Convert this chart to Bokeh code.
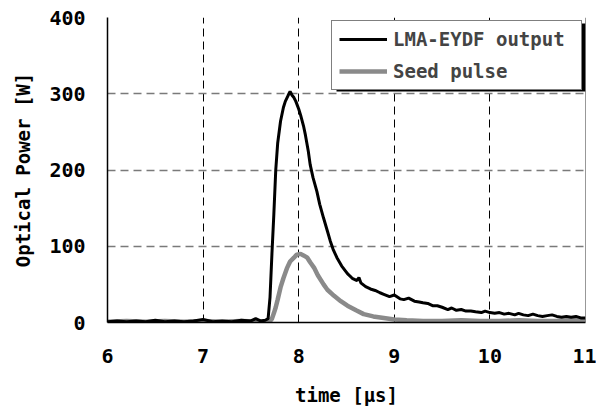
from bokeh.plotting import figure
from bokeh.models import Range1d, FixedTicker, Legend, LegendItem, Span, BoxAnnotation
from bokeh.embed import file_html
from bokeh.resources import INLINE

# ---- data ----
t_out = [6.00, 6.10, 6.20, 6.30, 6.40, 6.50, 6.60, 6.70, 6.80, 6.90, 7.00, 7.10, 7.20,
         7.30, 7.40, 7.50, 7.55, 7.60, 7.65, 7.68, 7.70, 7.72, 7.74, 7.76, 7.78, 7.81,
         7.84, 7.86, 7.89, 7.91, 7.93, 7.95, 7.97, 8.00, 8.02, 8.05, 8.07, 8.10, 8.12,
         8.15, 8.19, 8.22, 8.26, 8.30, 8.33, 8.36, 8.40, 8.45, 8.51, 8.56, 8.61, 8.63,
         8.65, 8.70, 8.75, 8.80, 8.85, 8.89, 8.95, 9.00, 9.06, 9.10, 9.15, 9.21, 9.26,
         9.30, 9.35, 9.40, 9.45, 9.50, 9.56, 9.60, 9.65, 9.70, 9.75, 9.80, 9.85, 9.91,
         9.95, 10.00, 10.05, 10.10, 10.15, 10.20, 10.26, 10.30, 10.35, 10.40, 10.45,
         10.50, 10.55, 10.60, 10.65, 10.70, 10.75, 10.80, 10.85, 10.90, 10.95, 11.00]
p_out = [1, 2, 1, 2, 1, 3, 1, 2, 1, 2, 4, 1, 2,
         1, 3, 2, 5, 2, 3, 5, 33, 90, 142, 200, 235, 264,
         282, 290, 298, 303, 298, 295, 290, 280, 272, 258, 246, 225, 207,
         190, 172, 155, 137, 120, 107, 96, 85, 74, 64, 58, 55, 59,
         52, 47, 44, 42, 39, 37, 34, 36, 31, 30, 32, 28, 27,
         26, 25, 22, 22, 20, 17, 19, 16, 17, 15, 15, 14, 13,
         15, 13, 12, 13, 11, 12, 10, 12, 10, 9, 11,
         9, 8, 9, 10, 8, 7, 8, 7, 8, 6, 6]

t_seed = [6.00, 6.20, 6.40, 6.60, 6.80, 7.00, 7.20, 7.40, 7.60, 7.70, 7.72, 7.74, 7.76,
          7.78, 7.81, 7.84, 7.88, 7.91, 7.95, 7.98, 8.02, 8.05, 8.09, 8.12, 8.16, 8.20,
          8.26, 8.30, 8.37, 8.44, 8.51, 8.60, 8.68, 8.78, 8.89, 9.00, 9.13, 9.30, 9.50,
          9.70, 9.90, 10.10, 10.30, 10.50, 10.70, 10.90, 11.00]
p_seed = [1, 2, 1, 2, 1, 2, 1, 2, 1, 2, 5, 12, 20,
          30, 46, 58, 72, 80, 85, 89, 90, 88, 85, 79, 72, 62,
          50, 43, 35, 28, 22, 16, 11, 8, 6, 4, 3, 2, 2,
          3, 2, 2, 3, 2, 2, 3, 2]

x_ticks = [6, 7, 8, 9, 10, 11]
y_ticks = [0, 100, 200, 300, 400]
labels = ["LMA-EYDF output", "Seed pulse"]

FONT = "DejaVu Sans Mono"

p = figure(width=596, height=410, output_backend="svg", toolbar_location=None,
           x_range=Range1d(6, 11), y_range=Range1d(0, 400),
           min_border_left=107, min_border_right=11, min_border_top=17, min_border_bottom=88)
p.outline_line_color = None
p.background_fill_color = "white"

seed = p.line(t_seed, p_seed, line_color="#8a8a8a", line_width=4.5)
out = p.line(t_out, p_out, line_color="black", line_width=3)

# axes
for ax in (p.xaxis[0], p.yaxis[0]):
    ax.major_tick_in = 0
    ax.major_tick_out = 0
    ax.minor_tick_in = 0
    ax.minor_tick_out = 0
    ax.axis_line_color = "black"
    ax.axis_line_width = 1.5
    ax.major_label_text_font = FONT
    ax.major_label_text_font_style = "bold"
    ax.major_label_text_font_size = "20px"
    ax.major_label_text_color = "black"
    ax.axis_label_text_font = FONT
    ax.axis_label_text_font_style = "bold"
    ax.axis_label_text_font_size = "19px"
    ax.axis_label_text_color = "black"

p.xaxis.ticker = FixedTicker(ticks=x_ticks)
p.yaxis.ticker = FixedTicker(ticks=y_ticks)
p.xaxis.axis_label = "time [μs]"
p.yaxis.axis_label = "Optical Power [W]"
p.xaxis.major_label_standoff = 26
p.yaxis.major_label_standoff = 22
p.xaxis.axis_label_standoff = 18
p.yaxis.axis_label_standoff = 12

# grids
p.xgrid.grid_line_color = "black"
p.xgrid.grid_line_dash = "8 5"
p.xgrid.grid_line_width = 1
p.ygrid.grid_line_color = "#7a7a7a"
p.ygrid.grid_line_dash = "8 5"
p.ygrid.grid_line_width = 1.5

# right frame edge
p.add_layout(Span(location=p.x_range.end, dimension="height", line_color="#333333", line_width=1))

# legend geometry (pixels, relative to plot frame)
fw, fh = 478.0, 305.0
lg_margin, lg_pad, lg_row, lg_gap, lg_w = 3, 7, 22, 10, 249
lg_glyph_w, lg_standoff = 48, 6
lg_h = 2 * lg_pad + 2 * lg_row + lg_gap
def px_x(px):
    return 6 + px * 5 / fw
def px_y(py):
    return 400 - py * 400 / fh
shadow = BoxAnnotation(left=px_x(fw - lg_margin - lg_w + 3), right=px_x(fw),
                       top=px_y(lg_margin + 3), bottom=px_y(lg_margin + lg_h + 3),
                       fill_color="black", fill_alpha=1, line_color=None, level="overlay")
p.add_layout(shadow)

legend = Legend(items=[LegendItem(label=labels[0], renderers=[out]),
                       LegendItem(label=labels[1], renderers=[seed])],
                location="top_right", margin=lg_margin, padding=lg_pad, spacing=lg_gap,
                glyph_width=lg_glyph_w, glyph_height=lg_row, label_height=lg_row,
                label_standoff=lg_standoff,
                label_width=lg_w - 2 * lg_pad - lg_glyph_w - lg_standoff,
                label_text_font=FONT, label_text_font_style="bold", label_text_font_size="19px",
                border_line_color="black", border_line_width=1,
                background_fill_color="white", background_fill_alpha=1)
legend.level = "overlay"
p.add_layout(legend)

open("out.html", "w").write(file_html(p, INLINE))
